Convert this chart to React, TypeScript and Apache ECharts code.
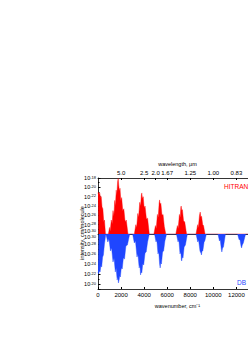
import React, { useEffect, useRef } from "react";
import * as echarts from "echarts";

// wavenumber axis (cm^-1)
const WAVENUMBER_MIN = 0;
const WAVENUMBER_MAX = 15000;
const WAVENUMBER_STEP = 2000;

// secondary wavelength axis (μm), placed at these wavenumbers
const WAVELENGTH_POS = [2000, 4000, 5000, 6000, 8000, 10000, 12000];
const WAVELENGTH_LABELS = ["5.0", "2.5", "2.0", "1.67", "1.25", "1.00", "0.83"];

// log10 of line intensity, cm/molecule
const TOP_LOG_MIN = -30;
const TOP_LOG_MAX = -18;
const BOTTOM_LOG_MIN = -30;
const BOTTOM_LOG_MAX = -19;

// HITRAN envelope: [wavenumber, log10(intensity)]
const hitranEnvelope: [number, number][] = [
  [0, -21.4], [50, -21.0], [100, -21.6], [150, -21.2], [220, -22.2], [280, -22.0], [350, -24.2], [420, -24.6],
  [500, -27.4], [560, -27.0], [650, -30],
  [900, -30], [1000, -28.6], [1060, -29.4], [1150, -27.0], [1230, -27.8], [1300, -25.0], [1380, -26.2],
  [1450, -22.8], [1510, -24.0], [1580, -20.6], [1630, -21.8], [1700, -18.8], [1750, -18.1], [1800, -19.6],
  [1860, -20.8], [1910, -20.2], [1980, -22.8], [2050, -22.2], [2150, -25.0], [2240, -24.6], [2350, -27.4],
  [2450, -27.0], [2600, -30],
  [3150, -30], [3280, -28.0], [3350, -28.6], [3450, -25.6], [3520, -26.4], [3620, -23.2], [3690, -24.0],
  [3760, -21.6], [3800, -21.2], [3850, -22.4], [3920, -22.0], [4000, -24.4], [4080, -24.0], [4200, -26.8],
  [4300, -26.6], [4450, -30],
  [4850, -30], [4980, -28.2], [5050, -28.8], [5150, -25.8], [5220, -26.4], [5300, -23.4], [5340, -22.7],
  [5390, -23.6], [5450, -23.4], [5550, -26.0], [5640, -25.8], [5750, -28.4], [5880, -30],
  [6750, -30], [6880, -28.2], [6950, -28.8], [7060, -25.8], [7130, -26.4], [7180, -24.3], [7210, -24.0],
  [7260, -24.9], [7320, -24.8], [7420, -27.2], [7520, -27.4], [7680, -30],
  [8500, -30], [8640, -28.0], [8700, -28.6], [8800, -26.0], [8860, -25.3], [8920, -26.4], [8980, -26.2],
  [9080, -28.0], [9150, -28.2], [9280, -30],
  [15000, -30],
];

// Comparison database envelope: [wavenumber, log10(intensity)]
const dbEnvelope: [number, number][] = [
  [0, -22.4], [60, -22.0], [120, -22.6], [180, -22.4], [250, -23.6], [320, -23.4], [400, -25.4], [470, -25.8],
  [560, -28.0], [680, -30],
  [700, -30], [850, -28.4], [950, -29.0], [1080, -26.6], [1180, -27.2], [1300, -24.4], [1390, -25.2],
  [1500, -22.4], [1570, -23.2], [1660, -20.8], [1720, -21.4], [1770, -20.2], [1830, -20.8], [1880, -21.6],
  [1940, -21.4], [2020, -23.2], [2100, -23.0], [2200, -25.2], [2300, -25.0], [2420, -27.6], [2550, -27.8],
  [2750, -30],
  [3000, -30], [3150, -28.2], [3250, -28.6], [3380, -25.4], [3460, -26.0], [3570, -23.2], [3630, -23.8],
  [3690, -21.8], [3740, -22.4], [3800, -22.2], [3880, -24.0], [3960, -23.8], [4080, -26.2], [4180, -26.4],
  [4300, -28.4], [4450, -30],
  [4900, -30], [5030, -28.4], [5100, -28.8], [5200, -26.0], [5270, -26.4], [5340, -24.0], [5390, -23.2],
  [5440, -24.2], [5500, -24.0], [5600, -26.4], [5690, -26.6], [5800, -28.6], [5950, -30],
  [6800, -30], [6940, -28.4], [7010, -28.8], [7110, -26.0], [7180, -26.4], [7230, -24.8], [7260, -24.6],
  [7310, -25.4], [7370, -25.2], [7470, -27.4], [7580, -27.8], [7750, -30],
  [8500, -30], [8650, -28.4], [8720, -28.8], [8840, -26.6], [8920, -26.2], [8970, -25.8], [9020, -26.6],
  [9090, -26.6], [9200, -28.4], [9260, -28.6], [9400, -30],
  [10400, -30], [10530, -28.6], [10600, -28.8], [10690, -27.0], [10740, -26.4], [10800, -27.2],
  [10880, -27.4], [11050, -30],
  [12100, -30], [12240, -28.8], [12300, -29.0], [12400, -27.6], [12450, -27.2], [12510, -27.8],
  [12600, -28.2], [12800, -30],
  [15000, -30],
];

const SERIES_NAMES = ["HITRAN", "DB"];
const RED = "#ff0000";
const BLUE = "#1f46ff";
const FONT = "Liberation Sans";

function powLabel(v: number, shift: number) {
  const key = shift < 0 ? "u" : shift > 0 ? "d" : "n";
  return `{${key}b|10}{${key}s|${v}}`;
}

function richStyles() {
  const base = { fontSize: 5.5, fontFamily: FONT, color: "#000" };
  const sup = { fontSize: 4, fontFamily: FONT, color: "#000", verticalAlign: "top" as const };
  return {
    nb: { ...base },
    ns: { ...sup },
    ub: { ...base, padding: [0, 0, 6, 0] },
    us: { ...sup, padding: [0, 0, 6, 0] },
    db: { ...base, padding: [6, 0, 0, 0] },
    ds: { ...sup, padding: [6, 0, 0, 0] },
  };
}

export default function App() {
  const ref = useRef<HTMLDivElement>(null);

  useEffect(() => {
    if (!ref.current) return;
    const chart = echarts.init(ref.current, undefined, { renderer: "svg" });
    const gridLeft = 98;
    const gridWidth = 173;
    const axisLine = { show: true, lineStyle: { color: "#000", width: 0.8 } };

    chart.setOption({
      animation: false,
      backgroundColor: "#fff",
      textStyle: { fontFamily: FONT },
      grid: [
        { left: gridLeft, top: 178, width: gridWidth, height: 56 },
        { left: gridLeft, top: 234, width: gridWidth, height: 55 },
      ],
      xAxis: [
        {
          gridIndex: 0,
          type: "value",
          position: "top",
          min: WAVENUMBER_MIN,
          max: WAVENUMBER_MAX,
          axisLine,
          splitLine: { show: false },
          axisTick: { show: true, inside: true, length: 2, customValues: WAVELENGTH_POS, lineStyle: { color: "#000" } },
          axisLabel: {
            customValues: WAVELENGTH_POS,
            fontSize: 6,
            color: "#000",
            margin: 2,
            formatter: (v: number) => {
              const i = WAVELENGTH_POS.indexOf(v);
              return i >= 0 ? WAVELENGTH_LABELS[i] : "";
            },
          },
          name: "wavelength, μm",
          nameLocation: "middle",
          nameGap: 11,
          nameTextStyle: { fontSize: 5.5, color: "#000", padding: [0, 14, 0, 0] },
        },
        {
          gridIndex: 0,
          type: "value",
          position: "bottom",
          min: WAVENUMBER_MIN,
          max: WAVENUMBER_MAX,
          axisLine,
          axisTick: { show: false },
          axisLabel: { show: false },
          splitLine: { show: false },
        },
        {
          gridIndex: 1,
          type: "value",
          position: "bottom",
          min: WAVENUMBER_MIN,
          max: WAVENUMBER_MAX,
          interval: WAVENUMBER_STEP,
          axisLine,
          splitLine: { show: false },
          axisTick: { show: true, inside: true, length: 2, lineStyle: { color: "#000" } },
          axisLabel: {
            fontSize: 6,
            color: "#000",
            margin: 3,
            formatter: (v: number) => (v <= 12000 ? String(v) : ""),
          },
          name: "wavenumber, cm⁻¹",
          nameLocation: "middle",
          nameGap: 14,
          nameTextStyle: { fontSize: 5.5, color: "#000", padding: [0, 14, 0, 0] },
        },
      ],
      yAxis: [
        {
          gridIndex: 0,
          type: "value",
          min: TOP_LOG_MIN,
          max: TOP_LOG_MAX,
          interval: 2,
          axisLine,
          splitLine: { show: false },
          axisTick: { show: true, inside: true, length: 2.5, lineStyle: { color: "#000" } },
          minorTick: { show: true, splitNumber: 2, length: 1.5, lineStyle: { color: "#000" } },
          axisLabel: {
            margin: 2,
            formatter: (v: number) => powLabel(v, v === TOP_LOG_MIN ? -1 : 0),
            rich: richStyles(),
          },
        },
        {
          gridIndex: 1,
          type: "value",
          inverse: true,
          min: BOTTOM_LOG_MIN,
          max: BOTTOM_LOG_MAX,
          interval: 2,
          axisLine,
          splitLine: { show: false },
          axisTick: { show: true, inside: true, length: 2.5, lineStyle: { color: "#000" } },
          minorTick: { show: true, splitNumber: 2, length: 1.5, lineStyle: { color: "#000" } },
          axisLabel: {
            margin: 2,
            formatter: (v: number) => powLabel(v, v === BOTTOM_LOG_MIN ? 1 : 0),
            rich: richStyles(),
          },
        },
      ],
      series: [
        {
          name: SERIES_NAMES[0],
          type: "line",
          xAxisIndex: 1,
          yAxisIndex: 0,
          data: hitranEnvelope,
          symbol: "none",
          lineStyle: { color: RED, width: 0.4 },
          areaStyle: { color: RED, opacity: 1, origin: "start" },
          z: 1,
        },
        {
          name: SERIES_NAMES[1],
          type: "line",
          xAxisIndex: 2,
          yAxisIndex: 1,
          data: dbEnvelope,
          symbol: "none",
          lineStyle: { color: BLUE, width: 0.4 },
          areaStyle: { color: BLUE, opacity: 1, origin: "start" },
          z: 1,
        },
      ],
      graphic: [
        {
          type: "text",
          left: 224,
          top: 183,
          style: { text: SERIES_NAMES[0], fill: RED, font: `6.5px "${FONT}"` },
        },
        {
          type: "text",
          left: 237,
          top: 279,
          style: { text: SERIES_NAMES[1], fill: BLUE, font: `6.5px "${FONT}"` },
        },
        {
          type: "text",
          x: 82,
          y: 233,
          rotation: Math.PI / 2,
          style: {
            text: "intensity, cm/molecule",
            fill: "#000",
            font: `5.5px "${FONT}"`,
            align: "center",
            verticalAlign: "middle",
          },
        },
      ],
    });

    return () => chart.dispose();
  }, []);

  return (
    <div
      style={{
        position: "fixed",
        left: 0,
        top: 0,
        width: 248,
        height: 351,
        overflow: "hidden",
        background: "#fff",
      }}
    >
      <div ref={ref} style={{ width: 300, height: 351 }} />
    </div>
  );
}
